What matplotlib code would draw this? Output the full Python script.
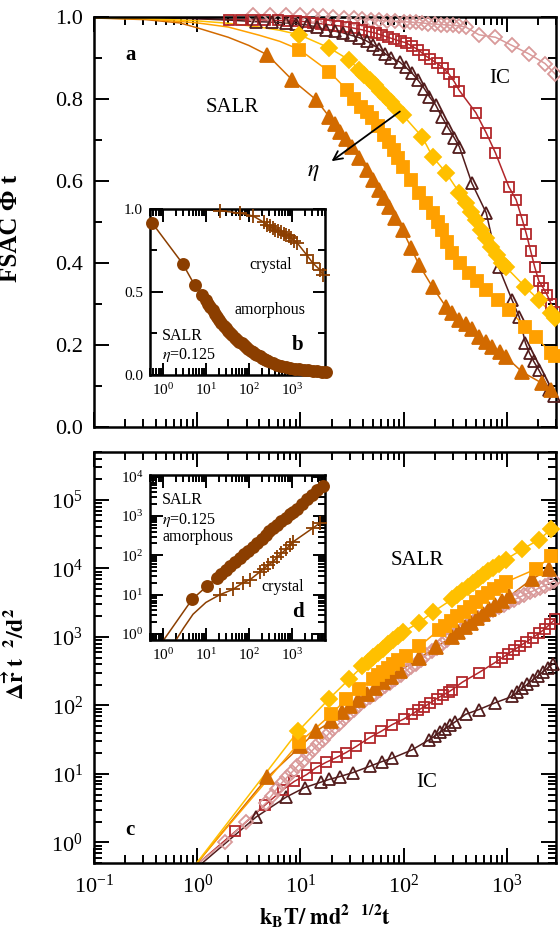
import numpy as np
import matplotlib
matplotlib.use("Agg")
import matplotlib.pyplot as plt
from matplotlib.ticker import LogLocator, MultipleLocator, NullFormatter

plt.rcParams['font.family'] = ['Liberation Serif', 'DejaVu Serif']
plt.rcParams['mathtext.fontset'] = 'stix'

# ---- panel a : FSAC, log10(t) vs Phi ----
lt_a_pink = [-1.0, -0.5, 0.0, 0.40, 0.54, 0.70, 0.86, 1.0, 1.12, 1.22, 1.32, 1.42, 1.52, 1.60, 1.68, 1.76, 1.84, 1.92, 2.0, 2.06,
             2.12, 2.18, 2.24, 2.30, 2.36, 2.42, 2.48, 2.54, 2.60, 2.73, 2.89, 3.05, 3.21, 3.37, 3.47]
phi_a_pink = [1.0, 1.0, 1.002, 1.004, 1.005, 1.005, 1.005, 1.004, 1.003, 1.001, 0.999, 0.997, 0.996, 0.995, 0.993, 0.991, 0.99, 0.989, 0.988, 0.987,
              0.986, 0.985, 0.983, 0.982, 0.981, 0.98, 0.979, 0.978, 0.975, 0.956, 0.95, 0.93, 0.91, 0.886, 0.86]

lt_a_red = [-1.0, -0.5, 0.0, 0.31, 0.42, 0.54, 0.66, 0.78, 0.88, 0.96, 1.04, 1.12, 1.20, 1.28, 1.36, 1.44, 1.52, 1.60, 1.66, 1.73,
            1.79, 1.85, 1.91, 1.97, 2.02, 2.08, 2.14, 2.2, 2.26, 2.32, 2.38, 2.44, 2.49, 2.54, 2.70, 2.80, 2.89, 3.02, 3.09, 3.15,
            3.19, 3.23, 3.27, 3.31, 3.35, 3.39, 3.43, 3.47]
phi_a_red = [1.0, 0.998, 0.996, 0.993, 0.993, 0.993, 0.992, 0.991, 0.99, 0.99, 0.988, 0.985, 0.983, 0.98, 0.978, 0.976, 0.972, 0.968, 0.964, 0.96,
             0.955, 0.95, 0.945, 0.94, 0.937, 0.928, 0.92, 0.907, 0.897, 0.887, 0.876, 0.86, 0.842, 0.82, 0.766, 0.717, 0.668, 0.585, 0.554, 0.505,
             0.47, 0.43, 0.39, 0.356, 0.34, 0.322, 0.30, 0.28]

lt_a_dark = [-1.0, -0.5, 0.0, 0.3, 0.57, 0.72, 0.86, 0.96, 1.06, 1.16, 1.25, 1.33, 1.41, 1.49, 1.57, 1.64, 1.70, 1.76, 1.82, 1.88,
             1.96, 2.02, 2.08, 2.14, 2.20, 2.25, 2.31, 2.37, 2.43, 2.49, 2.54, 2.66, 2.80, 2.92, 3.05, 3.12, 3.18, 3.22, 3.26, 3.31,
             3.36, 3.41, 3.46]
phi_a_dark = [1.0, 0.998, 0.995, 0.992, 0.988, 0.987, 0.985, 0.983, 0.98, 0.975, 0.968, 0.965, 0.961, 0.955, 0.949, 0.941, 0.932, 0.922, 0.91, 0.90,
              0.89, 0.877, 0.863, 0.845, 0.825, 0.805, 0.785, 0.756, 0.73, 0.705, 0.683, 0.595, 0.522, 0.39, 0.31, 0.268, 0.205, 0.18, 0.16, 0.139,
              0.115, 0.09, 0.075]

lt_a_gold = [-1.0, -0.5, 0.0, 0.3, 0.6, 0.8, 0.99, 1.28, 1.47, 1.57, 1.62, 1.67, 1.72, 1.77, 1.83, 1.88, 1.93, 1.99, 2.18, 2.28,
             2.41, 2.54, 2.60, 2.65, 2.70, 2.75, 2.80, 2.85, 2.90, 2.95, 2.99, 3.18, 3.31, 3.43, 3.47]
phi_a_gold = [0.998, 0.996, 0.99, 0.984, 0.975, 0.967, 0.956, 0.924, 0.895, 0.871, 0.858, 0.846, 0.834, 0.82, 0.805, 0.791, 0.777, 0.761, 0.707, 0.659,
              0.62, 0.571, 0.545, 0.525, 0.505, 0.48, 0.46, 0.44, 0.42, 0.40, 0.39, 0.341, 0.31, 0.278, 0.265]

lt_a_orange = [-1.0, -0.5, 0.0, 0.3, 0.6, 0.8, 0.99, 1.28, 1.45, 1.52, 1.59, 1.64, 1.69, 1.75, 1.81, 1.86, 1.91, 1.95, 1.99, 2.07,
               2.15, 2.22, 2.28, 2.33, 2.37, 2.42, 2.47, 2.55, 2.63, 2.71, 2.80, 2.91, 3.02, 3.18, 3.28, 3.43, 3.47]
phi_a_orange = [0.997, 0.995, 0.985, 0.975, 0.955, 0.94, 0.92, 0.866, 0.822, 0.80, 0.78, 0.767, 0.754, 0.733, 0.712, 0.694, 0.676, 0.655, 0.634, 0.602,
                0.571, 0.545, 0.522, 0.50, 0.48, 0.452, 0.424, 0.40, 0.376, 0.355, 0.334, 0.31, 0.285, 0.244, 0.22, 0.18, 0.172]

lt_a_rust = [-1.0, -0.5, -0.17, 0.0, 0.3, 0.5, 0.68, 0.92, 1.15, 1.28, 1.33, 1.38, 1.44, 1.50, 1.57, 1.64, 1.70, 1.76, 1.81, 1.86,
             1.92, 1.99, 2.07, 2.15, 2.28, 2.41, 2.47, 2.54, 2.60, 2.66, 2.73, 2.80, 2.86, 2.93, 2.99, 3.15, 3.34, 3.43]
phi_a_rust = [0.997, 0.993, 0.985, 0.973, 0.95, 0.93, 0.907, 0.846, 0.798, 0.756, 0.738, 0.72, 0.702, 0.683, 0.655, 0.627, 0.602, 0.578, 0.558, 0.537,
              0.51, 0.48, 0.437, 0.395, 0.341, 0.293, 0.277, 0.261, 0.25, 0.24, 0.22, 0.207, 0.195, 0.182, 0.171, 0.134, 0.107, 0.09]

# ---- inset b : SALR eta=0.125 FSAC ----
lt_b_amor = [-0.25, 0.46, 0.74, 0.90, 1.0, 1.05, 1.10, 1.16, 1.21, 1.26, 1.31, 1.36, 1.42, 1.47, 1.52, 1.57, 1.62, 1.67, 1.73, 1.78,
             1.83, 1.88, 1.93, 1.99, 2.04, 2.09, 2.14, 2.19, 2.25, 2.30, 2.35, 2.40, 2.45, 2.56, 2.66, 2.76, 2.87, 2.97, 3.07, 3.18,
             3.28, 3.39, 3.49, 3.59, 3.70, 3.80]
phi_b_amor = [0.915, 0.67, 0.54, 0.48, 0.45, 0.43, 0.41, 0.39, 0.37, 0.35, 0.33, 0.315, 0.298, 0.282, 0.267, 0.252, 0.238, 0.225, 0.212, 0.2,
              0.19, 0.178, 0.167, 0.157, 0.147, 0.137, 0.128, 0.12, 0.112, 0.105, 0.098, 0.092, 0.085, 0.072, 0.063, 0.055, 0.047, 0.04, 0.037, 0.034,
              0.031, 0.028, 0.025, 0.022, 0.018, 0.015]
lt_b_cry = [-0.25, 0.38, 0.90, 1.33, 1.80, 2.10, 2.35, 2.42, 2.49, 2.56, 2.62, 2.68, 2.74, 2.81, 2.87, 2.93, 2.99, 3.05, 3.13, 3.35,
            3.49, 3.66, 3.73]
phi_b_cry = [1.0, 1.0, 0.998, 0.99, 0.975, 0.958, 0.92, 0.905, 0.895, 0.885, 0.875, 0.868, 0.86, 0.852, 0.845, 0.835, 0.825, 0.81, 0.795, 0.723,
             0.675, 0.633, 0.602]

# ---- panel c : MSD, log10(t) vs log10(msd) ----
lt_c_gold = [0.0, 0.975, 1.28, 1.47, 1.6, 1.65, 1.7, 1.75, 1.8, 1.85, 1.9, 1.95, 1.99, 2.15, 2.28, 2.47, 2.52, 2.57, 2.62, 2.67,
             2.72, 2.77, 2.82, 2.87, 2.92, 2.99, 3.15, 3.31, 3.43]
lm_c_gold = [-0.29, 1.62, 2.10, 2.38, 2.57, 2.64, 2.70, 2.77, 2.83, 2.90, 2.96, 3.02, 3.07, 3.21, 3.36, 3.55, 3.61, 3.67, 3.73, 3.79,
             3.85, 3.90, 3.96, 4.01, 4.06, 4.13, 4.28, 4.42, 4.57]

lt_c_orange = [0.0, 0.99, 1.30, 1.44, 1.57, 1.7, 1.75, 1.8, 1.85, 1.9, 1.95, 2.02, 2.15, 2.34, 2.40, 2.46, 2.52, 2.58, 2.64, 2.70,
               2.76, 2.82, 2.88, 2.94, 2.99, 3.28, 3.43]
lm_c_orange = [-0.29, 1.46, 1.87, 2.09, 2.24, 2.38, 2.44, 2.49, 2.55, 2.61, 2.66, 2.72, 2.86, 3.10, 3.16, 3.23, 3.30, 3.37, 3.44, 3.51,
               3.58, 3.64, 3.70, 3.75, 3.80, 3.99, 4.18]

lt_c_rust = [0.0, 0.68, 1.0, 1.15, 1.30, 1.40, 1.48, 1.56, 1.64, 1.72, 1.80, 1.88, 1.96, 2.15, 2.31, 2.47, 2.53, 2.59, 2.65, 2.71,
             2.77, 2.83, 2.89, 2.95, 3.02, 3.24, 3.41]
lm_c_rust = [-0.30, 0.95, 1.40, 1.62, 1.77, 1.90, 1.99, 2.08, 2.17, 2.26, 2.34, 2.42, 2.50, 2.69, 2.85, 3.0, 3.07, 3.14, 3.21, 3.28,
             3.34, 3.41, 3.47, 3.53, 3.59, 3.84, 3.99]

lt_c_pink = [0.0, 0.27, 0.47, 0.67, 0.72, 0.77, 0.82, 0.87, 0.92, 0.97, 1.02, 1.07, 1.12, 1.17, 1.22, 1.27, 1.32, 1.37, 1.42, 1.47,
             1.52, 1.57, 1.62, 1.67, 1.72, 1.77, 1.82, 1.87, 1.92, 1.97, 2.02, 2.07, 2.12, 2.17, 2.22, 2.27, 2.32, 2.37, 2.42, 2.47,
             2.52, 2.57, 2.62, 2.67, 2.72, 2.77, 2.82, 2.87, 2.92, 2.97, 3.02, 3.07, 3.12, 3.17, 3.22, 3.27, 3.32, 3.37, 3.42, 3.46]
lm_c_pink = [-0.32, 0.01, 0.30, 0.58, 0.68, 0.78, 0.87, 0.95, 1.03, 1.11, 1.19, 1.27, 1.35, 1.43, 1.50, 1.58, 1.65, 1.73, 1.80, 1.87,
             1.94, 2.00, 2.06, 2.12, 2.17, 2.22, 2.28, 2.33, 2.39, 2.44, 2.50, 2.56, 2.61, 2.67, 2.73, 2.79, 2.84, 2.90, 2.95, 3.01,
             3.07, 3.12, 3.17, 3.22, 3.27, 3.31, 3.36, 3.40, 3.44, 3.47, 3.51, 3.54, 3.58, 3.61, 3.65, 3.68, 3.72, 3.75, 3.79, 3.82]

lt_c_red = [0.0, 0.37, 0.66, 0.83, 0.94, 1.06, 1.15, 1.25, 1.35, 1.44, 1.54, 1.67, 1.78, 1.89, 2.0, 2.08, 2.14, 2.2, 2.26, 2.32,
            2.38, 2.44, 2.47, 2.57, 2.73, 2.89, 2.95, 3.01, 3.07, 3.13, 3.19, 3.25, 3.31, 3.37, 3.42, 3.47]
lm_c_red = [-0.32, 0.16, 0.55, 0.77, 0.89, 0.99, 1.09, 1.17, 1.24, 1.31, 1.40, 1.53, 1.62, 1.72, 1.80, 1.87, 1.93, 1.98, 2.04, 2.10,
            2.15, 2.20, 2.23, 2.34, 2.48, 2.63, 2.69, 2.75, 2.81, 2.87, 2.93, 2.99, 3.05, 3.12, 3.19, 3.26]

lt_c_dark = [0.05, 0.57, 0.86, 1.04, 1.2, 1.28, 1.38, 1.51, 1.67, 1.79, 1.89, 2.08, 2.25, 2.30, 2.35, 2.40, 2.45, 2.5, 2.6, 2.73,
             2.89, 3.05, 3.1, 3.15, 3.2, 3.25, 3.3, 3.35, 3.4, 3.45]
lm_c_dark = [-0.3, 0.37, 0.66, 0.80, 0.88, 0.92, 0.96, 1.02, 1.11, 1.18, 1.23, 1.35, 1.50, 1.55, 1.61, 1.66, 1.71, 1.76, 1.87, 1.94,
             2.04, 2.13, 2.19, 2.25, 2.31, 2.37, 2.43, 2.49, 2.55, 2.61]

# ---- inset d : SALR eta=0.125 MSD ----
lt_d_amor = [0.0, 0.68, 1.02, 1.26, 1.36, 1.47, 1.57, 1.67, 1.80, 1.88, 1.99, 2.09, 2.19, 2.30, 2.40, 2.48, 2.57, 2.66, 2.76, 2.87,
             2.97, 3.03, 3.13, 3.23, 3.35, 3.47, 3.59, 3.73]
lm_d_amor = [-0.18, 0.88, 1.21, 1.43, 1.53, 1.63, 1.73, 1.82, 1.94, 2.02, 2.11, 2.21, 2.31, 2.42, 2.52, 2.61, 2.69, 2.78, 2.88, 2.96,
             3.04, 3.09, 3.18, 3.3, 3.44, 3.54, 3.65, 3.77]
lt_d_cry = [0.22, 0.48, 0.70, 1.0, 1.33, 1.63, 1.86, 2.03, 2.26, 2.35, 2.45, 2.57, 2.66, 2.76, 2.87, 2.97, 3.03, 3.49, 3.66]
lm_d_cry = [-0.3, 0.15, 0.5, 0.8, 1.0, 1.13, 1.3, 1.38, 1.58, 1.66, 1.75, 1.84, 1.95, 2.05, 2.15, 2.27, 2.34, 2.69, 2.82]

c_pink = '#d99a9a'
c_red = '#b2262a'
c_dark = '#521c1c'
c_gold = '#ffc000'
c_orange = '#ffa000'
c_rust = '#d26a00'
c_brown = '#8b3e00'


def draw(ax, lt, val, color, marker, filled, ms, start, logy=False, mew=1.3):
    lt = np.asarray(lt)
    t = 10.0 ** lt
    y = 10.0 ** np.asarray(val) if logy else np.asarray(val)
    ax.plot(t, y, '-', color=color, lw=1.1, zorder=2)
    m = lt >= start
    ax.plot(t[m], y[m], ls='none', marker=marker, ms=ms, mec=color,
            mfc=color if filled else 'none', mew=mew, clip_on=False, zorder=3)


def style(ax, big, small, size, pad):
    ax.tick_params(which='both', direction='in', top=True, right=True, width=1.4)
    ax.tick_params(which='major', length=big, labelsize=size, pad=pad)
    ax.tick_params(which='minor', length=small)
    for s in ax.spines.values():
        s.set_linewidth(1.8)


def logx(ax):
    ax.set_xscale('log')
    ax.xaxis.set_major_locator(LogLocator(base=10, numticks=20))
    ax.xaxis.set_minor_locator(LogLocator(base=10, subs=np.arange(2, 10), numticks=20))
    ax.xaxis.set_minor_formatter(NullFormatter())


def logy(ax):
    ax.set_yscale('log')
    ax.yaxis.set_major_locator(LogLocator(base=10, numticks=20))
    ax.yaxis.set_minor_locator(LogLocator(base=10, subs=np.arange(2, 10), numticks=20))
    ax.yaxis.set_minor_formatter(NullFormatter())


fig = plt.figure(figsize=(5.6, 9.41), dpi=100)

# ---------------- panel a ----------------
ax = fig.add_axes([0.168, 0.5462, 0.825, 0.436])
logx(ax)
ax.set_xlim(0.1, 3000)
ax.set_ylim(0, 1.0)
ax.yaxis.set_major_locator(MultipleLocator(0.2))
ax.yaxis.set_minor_locator(MultipleLocator(0.1))
ax.yaxis.set_major_formatter(plt.FormatStrFormatter('%.1f'))
style(ax, 11, 6, 16, 8)
ax.tick_params(labelbottom=False)

draw(ax, lt_a_pink, phi_a_pink, c_pink, 'D', False, 7, 0.5)
draw(ax, lt_a_red, phi_a_red, c_red, 's', False, 7.5, 0.3)
draw(ax, lt_a_dark, phi_a_dark, c_dark, '^', False, 8, 0.5)
draw(ax, lt_a_rust, phi_a_rust, c_rust, '^', True, 10, 0.6)
draw(ax, lt_a_orange, phi_a_orange, c_orange, 's', True, 8, 0.9)
draw(ax, lt_a_gold, phi_a_gold, c_gold, 'D', True, 8.5, 0.9)

ax.annotate('', xy=(10 ** 1.28, 0.644), xytext=(10 ** 1.985, 0.773),
            arrowprops=dict(arrowstyle='->', color='black', lw=1.3, mutation_scale=16))
ax.text(0.474, 0.62, r'$\eta$', transform=ax.transAxes, fontsize=17, ha='center', va='center')
ax.text(0.078, 0.907, 'a', transform=ax.transAxes, fontsize=15, fontweight='bold', ha='center', va='center')
ax.text(0.30, 0.78, 'SALR', transform=ax.transAxes, fontsize=15, ha='center', va='center')
ax.text(0.879, 0.85, 'IC', transform=ax.transAxes, fontsize=15, ha='center', va='center')
ax.set_ylabel('FSAC \u03a6 t', fontsize=18, fontweight='bold')
ax.yaxis.set_label_coords(-0.155, 0.485)

# ---------------- inset b ----------------
axb = fig.add_axes([0.268, 0.6015, 0.3125, 0.1764])
logx(axb)
axb.set_xlim(0.5, 6000)
axb.set_ylim(0, 1.0)
axb.yaxis.set_major_locator(MultipleLocator(0.5))
axb.yaxis.set_minor_locator(MultipleLocator(0.25))
axb.yaxis.set_major_formatter(plt.FormatStrFormatter('%.1f'))
style(axb, 9, 5, 11, 5)
draw(axb, lt_b_cry, phi_b_cry, c_brown, '+', False, 10, 1.3)
draw(axb, lt_b_amor, phi_b_amor, c_brown, 'o', True, 8, -1)
axb.text(0.69, 0.66, 'crystal', transform=axb.transAxes, fontsize=11.5, ha='center', va='center')
axb.text(0.686, 0.39, 'amorphous', transform=axb.transAxes, fontsize=11.5, ha='center', va='center')
axb.text(0.07, 0.235, 'SALR', transform=axb.transAxes, fontsize=11.5, ha='left', va='center')
axb.text(0.07, 0.12, r'$\eta$=0.125', transform=axb.transAxes, fontsize=11.5, ha='left', va='center')
axb.text(0.84, 0.18, 'b', transform=axb.transAxes, fontsize=15, fontweight='bold', ha='center', va='center')

# ---------------- panel c ----------------
axc = fig.add_axes([0.168, 0.0829, 0.825, 0.4367])
logx(axc)
logy(axc)
axc.set_xlim(0.1, 3000)
axc.set_ylim(0.5, 5e5)
style(axc, 11, 6, 16, 8)

draw(axc, lt_c_dark, lm_c_dark, c_dark, '^', False, 8, 0.5, logy=True)
draw(axc, lt_c_red, lm_c_red, c_red, 's', False, 7.5, 0.3, logy=True)
draw(axc, lt_c_pink, lm_c_pink, c_pink, 'D', False, 7, 0.2, logy=True)
draw(axc, lt_c_rust, lm_c_rust, c_rust, '^', True, 10, 0.5, logy=True)
draw(axc, lt_c_orange, lm_c_orange, c_orange, 's', True, 8, 0.5, logy=True)
draw(axc, lt_c_gold, lm_c_gold, c_gold, 'D', True, 8.5, 0.5, logy=True)

axc.text(0.699, 0.737, 'SALR', transform=axc.transAxes, fontsize=15, ha='center', va='center')
axc.text(0.72, 0.195, 'IC', transform=axc.transAxes, fontsize=15, ha='center', va='center')
axc.text(0.078, 0.08, 'c', transform=axc.transAxes, fontsize=15, fontweight='bold', ha='center', va='center')
axc.set_ylabel(r'$\mathbf{\Delta\vec{r}\ t\ \ ^{2}/d^{2}}$', fontsize=17)
axc.yaxis.set_label_coords(-0.14, 0.51)
axc.set_xlabel(r'$\mathbf{k_BT/\ md^2\ \ ^{1/2}t}$', fontsize=16)

# ---------------- inset d ----------------
axd = fig.add_axes([0.268, 0.3199, 0.3125, 0.1753])
logx(axd)
logy(axd)
axd.set_xlim(0.5, 6000)
axd.set_ylim(0.7, 1.1e4)
style(axd, 9, 5, 11, 5)
draw(axd, lt_d_cry, lm_d_cry, c_brown, '+', False, 10, 1.3, logy=True)
draw(axd, lt_d_amor, lm_d_amor, c_brown, 'o', True, 8, 0.5, logy=True)
axd.text(0.07, 0.85, 'SALR', transform=axd.transAxes, fontsize=11.5, ha='left', va='center')
axd.text(0.07, 0.727, r'$\eta$=0.125', transform=axd.transAxes, fontsize=11.5, ha='left', va='center')
axd.text(0.07, 0.624, 'amorphous', transform=axd.transAxes, fontsize=11.5, ha='left', va='center')
axd.text(0.76, 0.32, 'crystal', transform=axd.transAxes, fontsize=11.5, ha='center', va='center')
axd.text(0.846, 0.17, 'd', transform=axd.transAxes, fontsize=15, fontweight='bold', ha='center', va='center')

fig.savefig('out.png', dpi=100)
